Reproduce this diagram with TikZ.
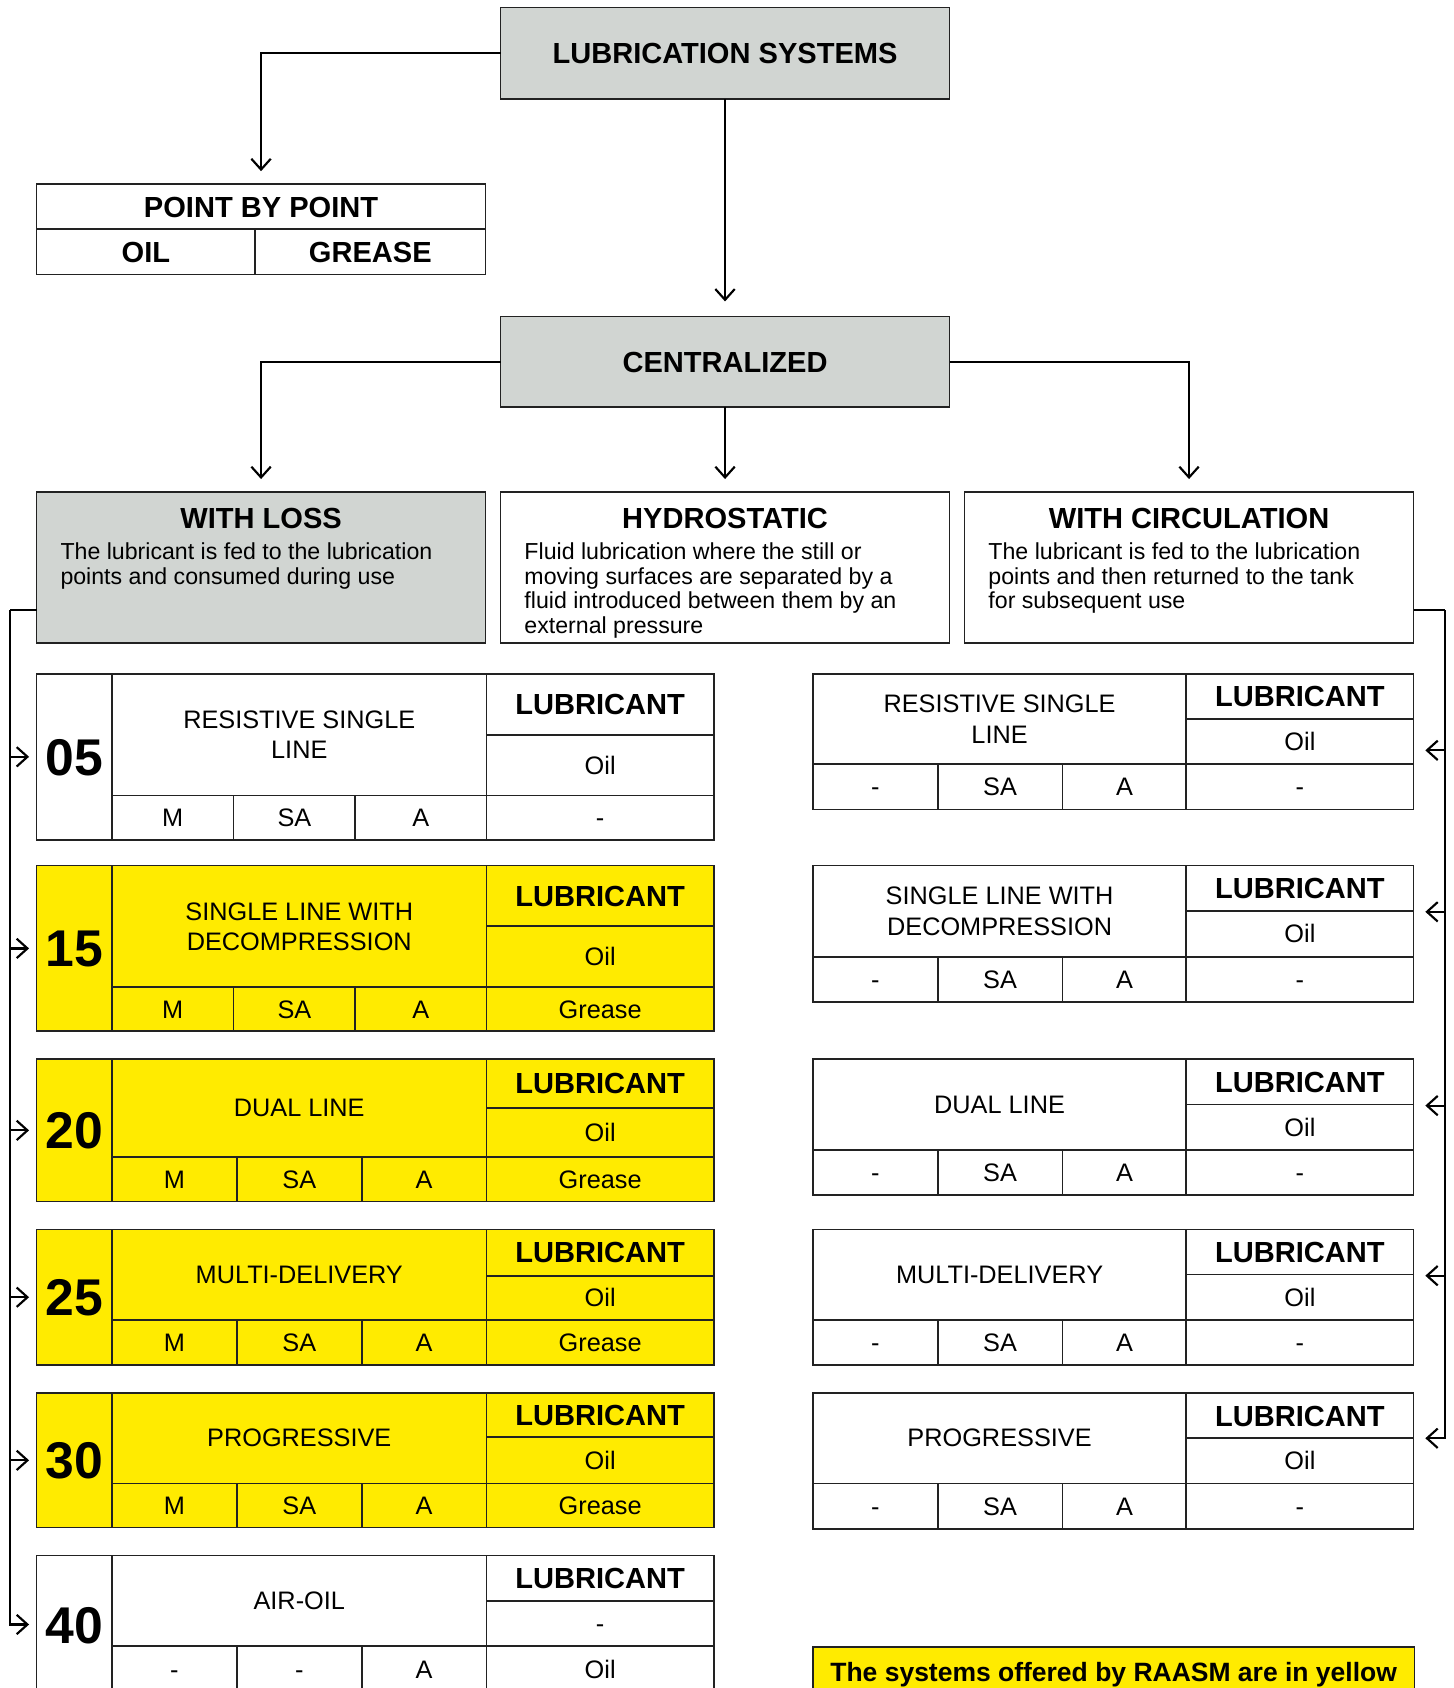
\documentclass[tikz,border=0pt]{standalone}
\usepackage{fontspec}
\setmainfont{Liberation Sans}
\usetikzlibrary{arrows.meta}
\definecolor{lc}{HTML}{222222}
\definecolor{gbox}{HTML}{D1D5D2}
\definecolor{ybox}{HTML}{FFEB00}
\newcommand\fhead{\fontsize{27}{30}\selectfont\bfseries}
\newcommand\fcell{\fontsize{23.5}{28}\selectfont}
\newcommand\fdesc{\fontsize{21.5}{22.8}\selectfont}
\newcommand\fnum{\fontsize{48}{50}\selectfont\bfseries}
\newcommand\flegend{\fontsize{24.6}{28}\selectfont\bfseries}
\tikzset{
 frame/.style={draw=lc, line width=1.6pt, inner sep=0pt, outer sep=0pt, rectangle},
 cellbox/.style={frame, font=\fcell, text height=16.8pt, text depth=0pt},
 lubbox/.style={frame, font=\fhead, text height=19.3pt, text depth=0pt},
 namebox/.style={frame, font=\fcell, align=center},
 numbox/.style={frame, font=\fnum, text height=34.4pt, text depth=0pt},
 headbox/.style={frame, font=\fhead, text height=19.3pt, text depth=0pt},
 ttl/.style={font=\fhead, inner sep=0pt, text height=19.3pt, text depth=0pt},
 desc/.style={font=\fdesc, inner sep=0pt, align=left, anchor=north west},
 conn/.style={draw=black, line width=2pt},
 arr/.style={conn, -{Straight Barb[length=10pt,width=18pt]}},
 tfill/.style={fill=white}
}
% \cell{name}{x1}{y1}{x2}{y2}{style}{text}
\newcommand\cell[7]{\node[#6, minimum width={(#4)-(#2)}, minimum height={(#5)-(#3)}] (#1) at ({((#2)+(#4))/2},{((#3)+(#5))/2}) {#7};}
% left table: id, fill, y0,y1,y2,y3, d1,d2, number
\newcommand\ltab[9]{%
 \def\Tid{#1}\tikzset{tfill/.style={fill=#2}}%
 \def\Ya{#3}\def\Yb{#4}\def\Yc{#5}\def\Yd{#6}\def\Da{#7}\def\Db{#8}%
 \cell{#1num}{34}{#3}{104}{#6}{numbox,tfill}{#9}}
\newcommand\ltabtext[6]{%
 \cell{\Tid name}{104}{\Ya}{452}{\Yc}{namebox,tfill}{#1}
 \cell{\Tid b1}{104}{\Yc}{\Da}{\Yd}{cellbox,tfill}{#2}
 \cell{\Tid b2}{\Da}{\Yc}{\Db}{\Yd}{cellbox,tfill}{#3}
 \cell{\Tid b3}{\Db}{\Yc}{452}{\Yd}{cellbox,tfill}{#4}
 \cell{\Tid lh}{452}{\Ya}{663}{\Yb}{lubbox,tfill}{LUBRICANT}
 \cell{\Tid l1}{452}{\Yb}{663}{\Yc}{cellbox,tfill}{#5}
 \cell{\Tid l2}{452}{\Yc}{663}{\Yd}{cellbox,tfill}{#6}}
% right table: id, y0,y1,y2,y3, name
\newcommand\rtab[6]{%
 \cell{#1name}{755}{#2}{1102}{#4}{namebox,fill=white}{#6}
 \cell{#1b1}{755}{#4}{871}{#5}{cellbox,fill=white}{-}
 \cell{#1b2}{871}{#4}{987}{#5}{cellbox,fill=white}{SA}
 \cell{#1b3}{987}{#4}{1102}{#5}{cellbox,fill=white}{A}
 \cell{#1lh}{1102}{#2}{1313}{#3}{lubbox,fill=white}{LUBRICANT}
 \cell{#1l1}{1102}{#3}{1313}{#4}{cellbox,fill=white}{Oil}
 \cell{#1l2}{1102}{#4}{1313}{#5}{cellbox,fill=white}{-}}
\begin{document}
\begin{tikzpicture}[x=1pt,y=-1pt]
\useasboundingbox (0,0) rectangle (1350,1568);
\clip (0,0) rectangle (1350,1568);
\fill[white] (0,0) rectangle (1350,1568);
% top part
\cell{ls}{465}{7}{882}{92}{headbox,fill=gbox}{LUBRICATION SYSTEMS}
\cell{pbp}{34}{171}{451}{213}{headbox,fill=white}{POINT BY POINT}
\cell{oil}{34}{213}{237}{255}{headbox,fill=white}{OIL}
\cell{grease}{237}{213}{451}{255}{headbox,fill=white}{GREASE}
\cell{cen}{465}{294}{882}{378}{headbox,fill=gbox}{CENTRALIZED}
\cell{wloss}{34}{457}{451}{597}{frame,fill=gbox}{}
\cell{hydro}{465}{457}{882}{597}{frame,fill=white}{}
\cell{wcirc}{896}{457}{1313}{597}{frame,fill=white}{}
\node[ttl] (wlosst) at (242.5,481) {WITH LOSS};
\node[ttl] (hydrot) at (673.5,481) {HYDROSTATIC};
\node[ttl] (wcirct) at (1104.5,481) {WITH CIRCULATION};
\node[desc] (wlossd) at (56,504) {The lubricant is fed to the lubrication\\points and consumed during use};
\node[desc] (hydrod) at (487,504) {Fluid lubrication where the still or\\moving surfaces are separated by a\\fluid introduced between them by an\\external pressure};
\node[desc] (wcircd) at (918,504) {The lubricant is fed to the lubrication\\points and then returned to the tank\\for subsequent use};
% top connectors
\draw[arr] (ls.west) -| ([yshift=12pt]pbp.north);
\draw[arr] (ls.south) -- ([yshift=14pt]cen.north);
\draw[arr] (cen.west) -| ([yshift=12pt]wloss.north);
\draw[arr] (cen.south) -- ([yshift=12pt]hydro.north);
\draw[arr] (cen.east) -| ([yshift=12pt]wcirc.north);
% left tables
\ltab{t05}{white}{626}{683}{739}{780}{217}{330}{05}
\ltabtext{RESISTIVE SINGLE\\LINE}{M}{SA}{A}{Oil}{-}
\ltab{t15}{ybox}{804}{860}{917}{958}{217}{330}{15}
\ltabtext{SINGLE LINE WITH\\DECOMPRESSION}{M}{SA}{A}{Oil}{Grease}
\ltab{t20}{ybox}{984}{1029}{1075}{1116}{220}{336}{20}
\ltabtext{DUAL LINE}{M}{SA}{A}{Oil}{Grease}
\ltab{t25}{ybox}{1142}{1185}{1226}{1268}{220}{336}{25}
\ltabtext{MULTI-DELIVERY}{M}{SA}{A}{Oil}{Grease}
\ltab{t30}{ybox}{1294}{1335}{1378}{1419}{220}{336}{30}
\ltabtext{PROGRESSIVE}{M}{SA}{A}{Oil}{Grease}
\ltab{t40}{white}{1445}{1487}{1529}{1573}{220}{336}{40}
\ltabtext{AIR-OIL}{-}{-}{A}{-}{Oil}
% right tables
\rtab{r1}{626}{668}{710}{752}{RESISTIVE SINGLE\\LINE}
\rtab{r2}{804}{846}{889}{931}{SINGLE LINE WITH\\DECOMPRESSION}
\rtab{r3}{984}{1026}{1068}{1110}{DUAL LINE}
\rtab{r4}{1142}{1184}{1226}{1268}{MULTI-DELIVERY}
\rtab{r5}{1294}{1336}{1378}{1420}{PROGRESSIVE}
% legend
\cell{legend}{755}{1530}{1314}{1577}{frame,fill=ybox,font=\flegend,text height=17.6pt,text depth=0pt}{The systems offered by RAASM are in yellow}
% left bus
\coordinate (LT) at (9.6,567);
\draw[conn] (wloss.west |- LT) -- (LT);
\draw[arr] (LT) |- ([xshift=-7pt]t40num.west);
\foreach \t in {t05,t15,t20,t25,t30} {\draw[arr] (LT |- \t num.west) -- ([xshift=-7pt]\t num.west);}
% right bus
\coordinate (RT) at (1342,567);
\coordinate (r1a) at (1324,697);
\coordinate (r2a) at (1324,847);
\coordinate (r3a) at (1324,1027);
\coordinate (r4a) at (1324,1185);
\coordinate (r5a) at (1324,1336);
\draw[conn] (wcirc.east |- RT) -- (RT);
\draw[arr] (RT) |- (r5a);
\foreach \r in {r1a,r2a,r3a,r4a} {\draw[arr] (RT |- \r) -- (\r);}
\end{tikzpicture}
\end{document}
